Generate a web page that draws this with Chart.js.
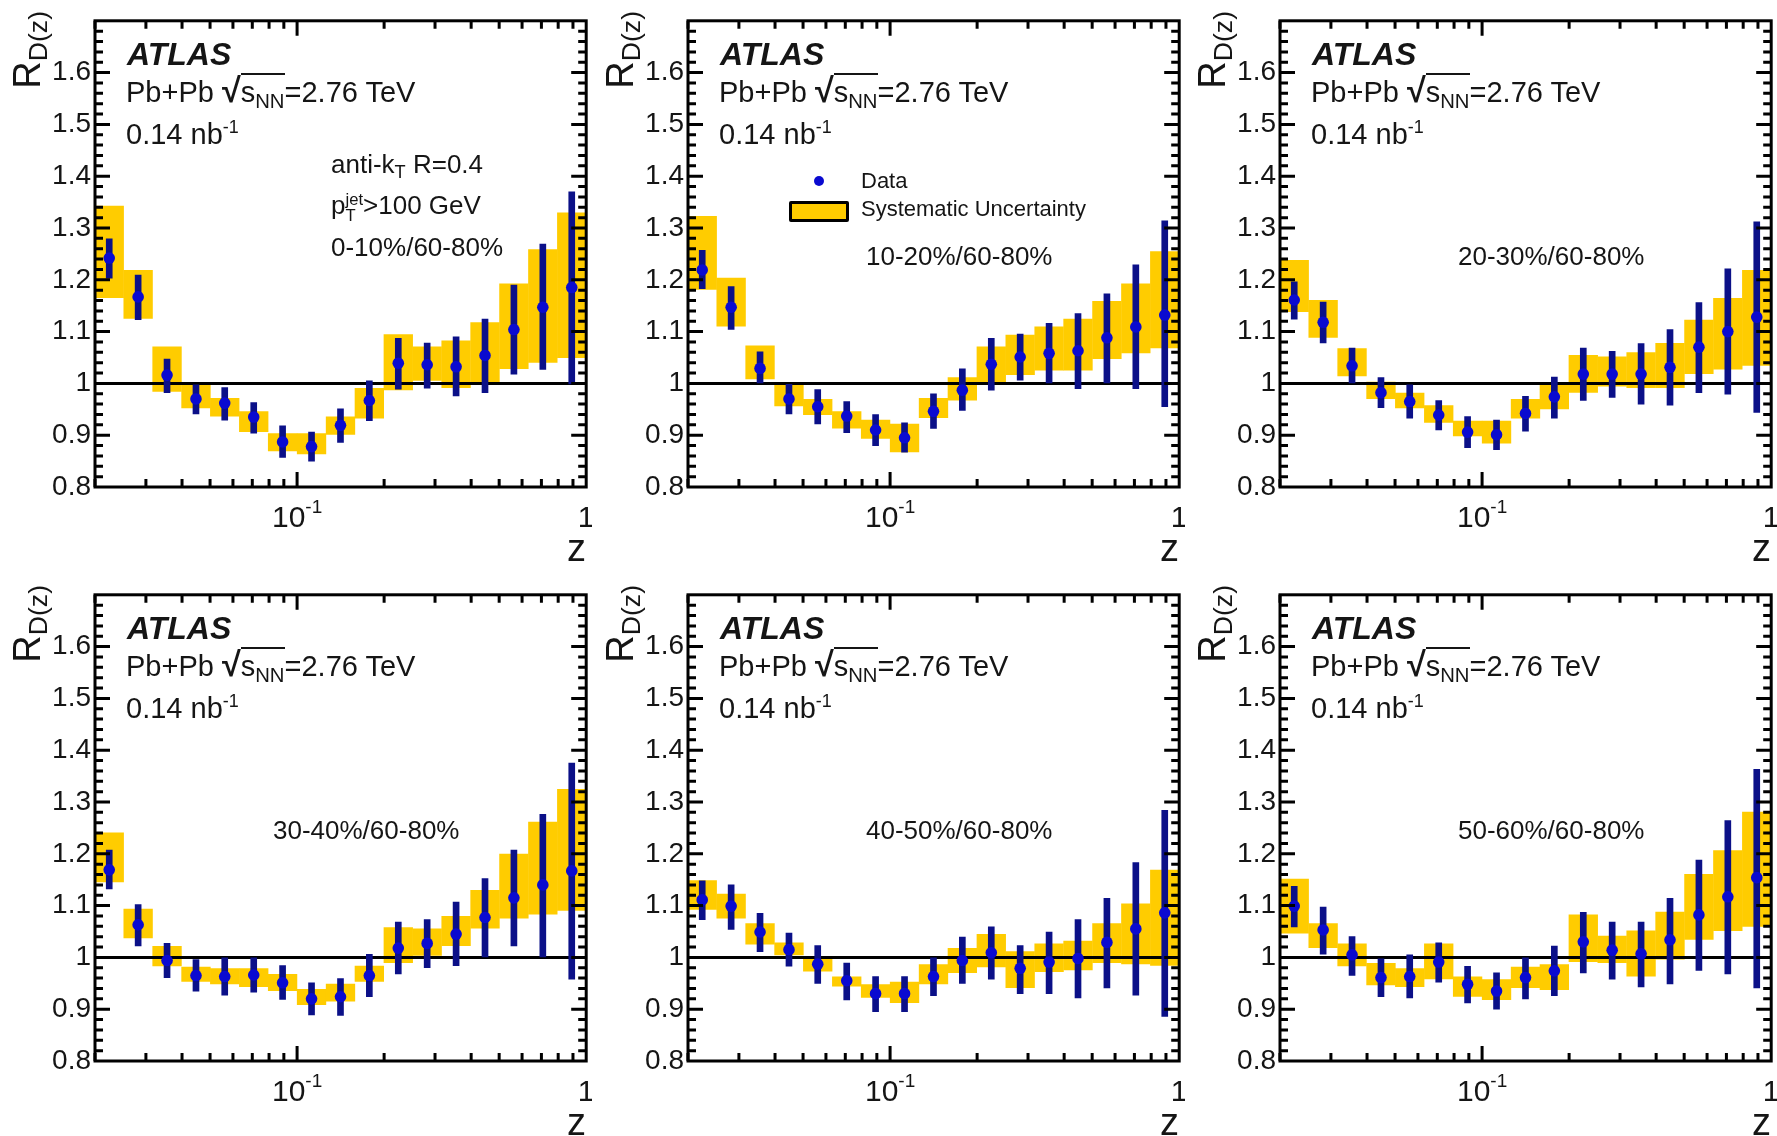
<!DOCTYPE html>
<html>
<head>
<meta charset="utf-8">
<script src="https://cdn.jsdelivr.net/npm/chart.js@4.4.1/dist/chart.umd.min.js"></script>
<style>
  html, body { margin: 0; padding: 0; background: #fff; }
  body { position: relative; width: 1777px; height: 1136px; overflow: hidden;
         font-family: 'Liberation Sans', Arial, Helvetica, sans-serif; color: #151515; }
  canvas { position: absolute; }
  .txt { position: absolute; white-space: nowrap; line-height: 1; }
  .sub { font-size: 0.7em; vertical-align: -0.28em; line-height: 0; }
  .sup { font-size: 0.62em; vertical-align: 0.62em; line-height: 0; }
  .rad { font-size: 1.18em; font-weight: bold; }
  .ov { border-top: 2px solid #151515; padding-top: 1px; }
  .stk { display: inline-flex; flex-direction: column; font-size: 0.64em; line-height: 0.95; }
</style>
</head>
<body>
<script>
// bin centres in z (10 bins per decade between 0.02 and 1)
const zBins = [0.0224, 0.0282, 0.0355, 0.0447, 0.0562, 0.0708, 0.0891, 0.1122, 0.1413,
               0.1778, 0.2239, 0.2818, 0.3548, 0.4467, 0.5623, 0.7079, 0.8913];

const yTickValues = [0.8, 0.9, 1.0, 1.1, 1.2, 1.3, 1.4, 1.5, 1.6];
const yTickLabels = ['0.8', '0.9', '1', '1.1', '1.2', '1.3', '1.4', '1.5', '1.6'];
const xMajorTicks = [0.1, 1];
const xTickLabels = [['10', '-1'], ['1', '']];
const xMinorTicks = [0.02, 0.03, 0.04, 0.05, 0.06, 0.07, 0.08, 0.09,
                     0.2, 0.3, 0.4, 0.5, 0.6, 0.7, 0.8, 0.9];

// 0-10%/60-80%
const rd_0_10     = [1.242, 1.167, 1.016, 0.970, 0.962, 0.935, 0.887, 0.878, 0.919, 0.967, 1.039, 1.036, 1.032, 1.054, 1.104, 1.147, 1.185];
const statHi_0_10 = [1.279, 1.209, 1.047, 0.997, 0.992, 0.963, 0.918, 0.906, 0.951, 1.005, 1.087, 1.078, 1.090, 1.124, 1.190, 1.269, 1.370];
const statLo_0_10 = [1.203, 1.123, 0.982, 0.941, 0.929, 0.904, 0.857, 0.850, 0.886, 0.928, 0.989, 0.991, 0.976, 0.982, 1.018, 1.027, 0.999];
const sysHi_0_10  = [1.343, 1.219, 1.071, 0.999, 0.972, 0.946, 0.904, 0.904, 0.936, 0.991, 1.095, 1.071, 1.083, 1.118, 1.193, 1.259, 1.330];
const sysLo_0_10  = [1.165, 1.125, 0.984, 0.952, 0.936, 0.906, 0.869, 0.863, 0.901, 0.932, 0.987, 1.005, 0.991, 0.999, 1.028, 1.040, 1.049];

// 10-20%/60-80%
const rd_10_20     = [1.219, 1.147, 1.029, 0.970, 0.955, 0.937, 0.910, 0.895, 0.946, 0.987, 1.037, 1.051, 1.058, 1.063, 1.088, 1.109, 1.132];
const statHi_10_20 = [1.257, 1.187, 1.061, 0.998, 0.988, 0.965, 0.940, 0.924, 0.980, 1.028, 1.087, 1.095, 1.116, 1.135, 1.173, 1.229, 1.314];
const statLo_10_20 = [1.183, 1.104, 1.001, 0.941, 0.922, 0.905, 0.880, 0.867, 0.913, 0.948, 0.987, 1.006, 1.001, 0.990, 1.001, 0.990, 0.955];
const sysHi_10_20  = [1.323, 1.204, 1.073, 0.999, 0.970, 0.946, 0.930, 0.922, 0.972, 1.012, 1.071, 1.094, 1.110, 1.125, 1.159, 1.193, 1.255];
const sysLo_10_20  = [1.181, 1.110, 1.008, 0.956, 0.939, 0.913, 0.893, 0.867, 0.933, 0.967, 1.001, 1.016, 1.025, 1.025, 1.047, 1.058, 1.068];

// 20-30%/60-80%
const rd_20_30     = [1.161, 1.118, 1.034, 0.982, 0.965, 0.939, 0.906, 0.901, 0.942, 0.974, 1.018, 1.018, 1.018, 1.031, 1.070, 1.100, 1.128];
const statHi_20_30 = [1.196, 1.157, 1.068, 1.011, 0.997, 0.967, 0.936, 0.929, 0.975, 1.012, 1.068, 1.062, 1.077, 1.104, 1.156, 1.221, 1.312];
const statLo_20_30 = [1.124, 1.078, 1.001, 0.953, 0.933, 0.910, 0.876, 0.872, 0.908, 0.933, 0.967, 0.973, 0.960, 0.958, 0.982, 0.979, 0.944];
const sysHi_20_30  = [1.238, 1.161, 1.068, 1.003, 0.982, 0.958, 0.928, 0.928, 0.970, 0.997, 1.055, 1.052, 1.060, 1.078, 1.123, 1.165, 1.219];
const sysLo_20_30  = [1.138, 1.088, 1.014, 0.970, 0.952, 0.924, 0.898, 0.884, 0.932, 0.950, 0.982, 0.994, 0.991, 0.991, 1.018, 1.027, 1.034];

// 30-40%/60-80%
const rd_30_40     = [1.169, 1.063, 0.994, 0.965, 0.963, 0.966, 0.951, 0.920, 0.924, 0.965, 1.018, 1.027, 1.045, 1.077, 1.115, 1.140, 1.167];
const statHi_30_40 = [1.207, 1.102, 1.027, 0.996, 0.999, 0.999, 0.984, 0.951, 0.959, 1.006, 1.068, 1.073, 1.107, 1.152, 1.207, 1.276, 1.375];
const statLo_30_40 = [1.132, 1.022, 0.961, 0.935, 0.927, 0.933, 0.919, 0.889, 0.888, 0.924, 0.968, 0.980, 0.984, 1.001, 1.022, 1.001, 0.958];
const sysHi_30_40  = [1.241, 1.094, 1.022, 0.982, 0.979, 0.979, 0.968, 0.939, 0.949, 0.984, 1.058, 1.056, 1.080, 1.130, 1.200, 1.262, 1.325];
const sysLo_30_40  = [1.145, 1.037, 0.983, 0.953, 0.948, 0.943, 0.935, 0.908, 0.915, 0.953, 0.989, 1.003, 1.022, 1.056, 1.075, 1.083, 1.090];

// 40-50%/60-80%
const rd_40_50     = [1.111, 1.099, 1.049, 1.015, 0.987, 0.955, 0.930, 0.930, 0.963, 0.994, 1.009, 0.979, 0.991, 0.998, 1.029, 1.055, 1.086];
const statHi_40_50 = [1.148, 1.140, 1.085, 1.047, 1.023, 0.989, 0.963, 0.963, 0.999, 1.039, 1.059, 1.023, 1.049, 1.073, 1.114, 1.183, 1.284];
const statLo_40_50 = [1.073, 1.054, 1.011, 0.983, 0.950, 0.918, 0.895, 0.895, 0.926, 0.950, 0.958, 0.930, 0.930, 0.922, 0.941, 0.927, 0.886];
const sysHi_40_50  = [1.149, 1.123, 1.066, 1.029, 1.001, 0.963, 0.948, 0.953, 0.987, 1.018, 1.045, 1.012, 1.027, 1.032, 1.066, 1.104, 1.169];
const sysLo_40_50  = [1.092, 1.075, 1.025, 1.004, 0.973, 0.944, 0.922, 0.912, 0.948, 0.970, 0.981, 0.941, 0.972, 0.975, 0.989, 0.987, 0.984];

// 50-60%/60-80%
const rd_50_60     = [1.099, 1.053, 1.005, 0.961, 0.963, 0.991, 0.948, 0.935, 0.961, 0.974, 1.030, 1.014, 1.007, 1.034, 1.082, 1.117, 1.154];
const statHi_50_60 = [1.137, 1.097, 1.040, 0.997, 1.005, 1.028, 0.983, 0.970, 0.999, 1.022, 1.087, 1.068, 1.068, 1.114, 1.188, 1.264, 1.363];
const statLo_50_60 = [1.059, 1.006, 0.965, 0.924, 0.922, 0.952, 0.912, 0.900, 0.920, 0.926, 0.970, 0.958, 0.943, 0.949, 0.975, 0.968, 0.941];
const sysHi_50_60  = [1.152, 1.066, 1.027, 0.989, 0.979, 1.027, 0.963, 0.958, 0.982, 0.987, 1.083, 1.042, 1.052, 1.088, 1.161, 1.207, 1.281];
const sysLo_50_60  = [1.046, 1.018, 0.983, 0.946, 0.943, 0.958, 0.924, 0.918, 0.941, 0.937, 0.991, 0.989, 0.963, 0.996, 1.034, 1.051, 1.059];

const panels = [
  { label: '0-10%/60-80%',  val: rd_0_10,  sLo: statLo_0_10,  sHi: statHi_0_10,  yLo: sysLo_0_10,  yHi: sysHi_0_10 },
  { label: '10-20%/60-80%', val: rd_10_20, sLo: statLo_10_20, sHi: statHi_10_20, yLo: sysLo_10_20, yHi: sysHi_10_20 },
  { label: '20-30%/60-80%', val: rd_20_30, sLo: statLo_20_30, sHi: statHi_20_30, yLo: sysLo_20_30, yHi: sysHi_20_30 },
  { label: '30-40%/60-80%', val: rd_30_40, sLo: statLo_30_40, sHi: statHi_30_40, yLo: sysLo_30_40, yHi: sysHi_30_40 },
  { label: '40-50%/60-80%', val: rd_40_50, sLo: statLo_40_50, sHi: statHi_40_50, yLo: sysLo_40_50, yHi: sysHi_40_50 },
  { label: '50-60%/60-80%', val: rd_50_60, sLo: statLo_50_60, sHi: statHi_50_60, yLo: sysLo_50_60, yHi: sysHi_50_60 }
];

// layout (page pixels): frame corners of each pad
const frameLefts = [95, 688, 1280];
const frameTops = [11, 585];
const FW = 493, FH = 476;
const AX = 95, PT = 11, PR = 4, PB = 85;

const TEXT = '#151515';
const YELLOW = '#ffcc00';
const DOT = '#0a0ad0';
const BAR = '#0b1088';
const FONT = '"Liberation Sans", Arial, Helvetica, sans-serif';

const framePlugin = {
  id: 'rootFrame',
  afterDraw(chart) {
    const { ctx, chartArea: a } = chart;
    const x = chart.scales.x, y = chart.scales.y;
    ctx.save();
    ctx.strokeStyle = '#000';
    ctx.lineWidth = 3;
    ctx.beginPath();
    for (let k = 1; k < 45; k++) {
      const py = y.getPixelForValue(0.8 + k * 0.02);
      const len = k % 5 === 0 ? 15 : 8;
      ctx.moveTo(a.left, py); ctx.lineTo(a.left + len, py);
      ctx.moveTo(a.right, py); ctx.lineTo(a.right - len, py);
    }
    const xt = xMinorTicks.map(v => [v, 8]).concat([[xMajorTicks[0], 15]]);
    for (const [v, len] of xt) {
      const px = x.getPixelForValue(v);
      ctx.moveTo(px, a.bottom); ctx.lineTo(px, a.bottom - len);
      ctx.moveTo(px, a.top); ctx.lineTo(px, a.top + len);
    }
    ctx.stroke();
    ctx.strokeRect(a.left, a.top, a.right - a.left, a.bottom - a.top);

    // x tick labels, ROOT style with superscript exponent
    ctx.fillStyle = TEXT;
    ctx.textBaseline = 'alphabetic';
    ctx.textAlign = 'left';
    const base = a.bottom + 40;
    xMajorTicks.forEach((v, i) => {
      const [main, sup] = xTickLabels[i];
      ctx.font = '30px ' + FONT;
      const wm = ctx.measureText(main).width;
      ctx.font = '19px ' + FONT;
      const ws = sup ? ctx.measureText(sup).width : 0;
      const sx = x.getPixelForValue(v) - (wm + ws) / 2;
      ctx.font = '30px ' + FONT;
      ctx.fillText(main, sx, base);
      if (sup) {
        ctx.font = '19px ' + FONT;
        ctx.fillText(sup, sx + wm, base - 14);
      }
    });
    ctx.restore();
  }
};

function addText(html, x, baseline, size, extra) {
  const d = document.createElement('div');
  d.className = 'txt';
  d.innerHTML = html;
  d.style.left = x + 'px';
  d.style.top = (baseline - 0.8465 * size) + 'px';
  d.style.fontSize = size + 'px';
  if (extra) Object.assign(d.style, extra);
  document.body.appendChild(d);
  return d;
}

function makePanel(p, idx) {
  const L = frameLefts[idx % 3], T = frameTops[Math.floor(idx / 3)];
  const canvas = document.createElement('canvas');
  canvas.width = AX + FW + PR;
  canvas.height = PT + FH + PB;
  canvas.style.left = (L - AX) + 'px';
  canvas.style.top = (T - PT) + 'px';
  document.body.appendChild(canvas);

  new Chart(canvas, {
    type: 'bar',
    data: {
      datasets: [
        {
          type: 'line', label: 'Data', order: 1,
          data: zBins.map((z, i) => ({ x: z, y: p.val[i] })),
          showLine: false, pointRadius: 5.8, pointHoverRadius: 5.8,
          pointBackgroundColor: DOT, pointBorderWidth: 0
        },
        {
          type: 'bar', label: 'stat', order: 2, grouped: false,
          data: zBins.map((z, i) => ({ x: z, y: [p.sLo[i], p.sHi[i]] })),
          backgroundColor: BAR, barThickness: 6, borderWidth: 0
        },
        {
          type: 'line', label: 'unity', order: 3,
          data: [{ x: 0.02, y: 1 }, { x: 1, y: 1 }],
          borderColor: '#000', borderWidth: 3, pointRadius: 0
        },
        {
          type: 'bar', label: 'Systematic Uncertainty', order: 4, grouped: false,
          data: zBins.map((z, i) => ({ x: z, y: [p.yLo[i], p.yHi[i]] })),
          backgroundColor: YELLOW, categoryPercentage: 1, barPercentage: 1.02, borderWidth: 0
        }
      ]
    },
    options: {
      responsive: false, animation: false, devicePixelRatio: 1,
      layout: { padding: { top: PT, right: PR, bottom: PB, left: 0 } },
      plugins: { legend: { display: false }, tooltip: { enabled: false } },
      scales: {
        x: {
          type: 'logarithmic', min: 0.02, max: 1, display: false,
          afterBuildTicks: s => { s.ticks = xMajorTicks.map(v => ({ value: v })); }
        },
        y: {
          type: 'linear', min: 0.8, max: 1.7,
          grid: { display: false, drawTicks: false },
          border: { display: false },
          afterBuildTicks: s => { s.ticks = yTickValues.map(v => ({ value: v })); },
          afterFit: s => { s.width = AX; },
          ticks: {
            padding: 4, color: TEXT, font: { family: FONT, size: 28 },
            callback: (v, i) => yTickLabels[i]
          }
        }
      }
    },
    plugins: [framePlugin]
  });

  // annotations
  addText('<b><i>ATLAS</i></b>', L + 32, T + 54, 32);
  addText('Pb+Pb <span class="rad">&radic;</span><span class="ov">s<span class="sub">NN</span></span>=2.76 TeV', L + 31, T + 87, 29);
  addText('0.14 nb<span class="sup">-1</span>', L + 31, T + 134, 29);
  if (idx === 0) {
    addText('anti-k<span class="sub">T</span> R=0.4', L + 236, T + 162, 26);
    addText('p<span class="stk" style="vertical-align:9px"><span>jet</span><span>T</span></span>&gt;100 GeV', L + 236, T + 203, 26);
    addText(p.label, L + 236, T + 245, 26);
  } else {
    addText(p.label, L + 178, T + 254, 26);
  }
  if (idx === 1) {
    const dot = document.createElement('div');
    Object.assign(dot.style, { position: 'absolute', left: (L + 126) + 'px', top: (T + 165) + 'px',
      width: '10px', height: '10px', borderRadius: '50%', background: DOT });
    document.body.appendChild(dot);
    const box = document.createElement('div');
    Object.assign(box.style, { position: 'absolute', left: (L + 101) + 'px', top: (T + 190) + 'px',
      width: '54px', height: '15px', border: '3px solid #000', borderRadius: '2px', background: YELLOW });
    document.body.appendChild(box);
    addText('Data', L + 173, T + 178, 22);
    addText('Systematic Uncertainty', L + 173, T + 206, 22);
  }

  // axis titles
  addText('R<span class="sub">D(z)</span>', L - 87, T + 200, 38,
    { width: '200px', textAlign: 'right', transformOrigin: '0 0', transform: 'rotate(-90deg)',
      top: (T + 200) + 'px' });
  addText('z', L + FW - 102, T + FH + 74, 38, { width: '100px', textAlign: 'right' });
}

panels.forEach(makePanel);
</script>
</body>
</html>
